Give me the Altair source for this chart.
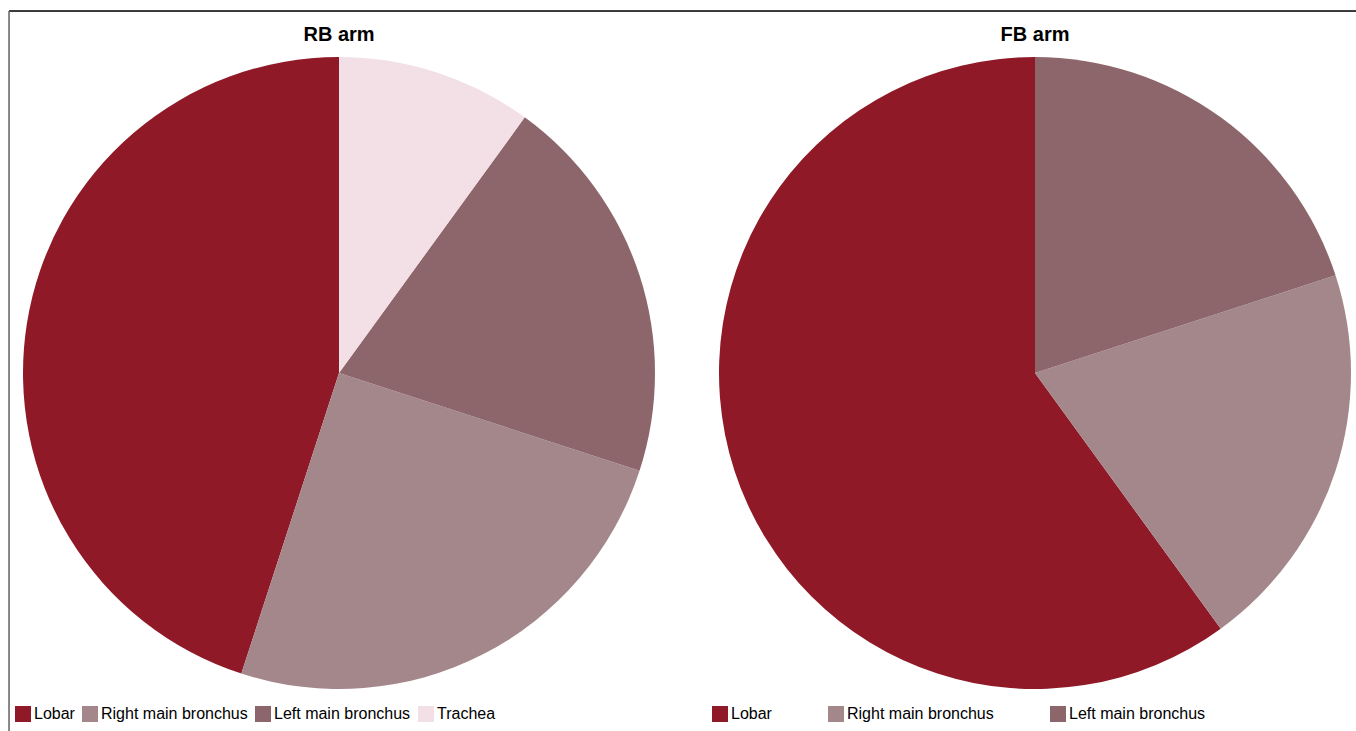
import altair as alt
import pandas as pd

categories_rb = ["Lobar", "Right main bronchus", "Left main bronchus", "Trachea"]
values_rb = [45, 25, 20, 10]
categories_fb = ["Lobar", "Right main bronchus", "Left main bronchus"]
values_fb = [60, 20, 20]
# drawing order clockwise from 12 o'clock
order_rb = [4, 3, 2, 1]
order_fb = [3, 2, 1]
palette = {"Lobar": "#8F1927", "Right main bronchus": "#A4878B",
           "Left main bronchus": "#8D666B", "Trachea": "#F3DFE6"}
panel_titles = ["RB arm", "FB arm"]

FONT = "Liberation Sans, Arial, sans-serif"
W, H = 1347, 720
R = 316

df_rb = pd.DataFrame({"cat": categories_rb, "val": values_rb, "ord": order_rb})
df_fb = pd.DataFrame({"cat": categories_fb, "val": values_fb, "ord": order_fb})


def pie(df, cats, cx, legend_x, col_pad):
    return alt.Chart(df).mark_arc(radius=R, stroke=None).encode(
        theta=alt.Theta("val:Q", stack=True),
        order=alt.Order("ord:Q"),
        color=alt.Color(
            "cat:N",
            scale=alt.Scale(domain=cats, range=[palette[c] for c in cats]),
            legend=alt.Legend(
                title=None, orient="none", direction="horizontal",
                legendX=legend_x, legendY=H - 25,
                symbolType="square", symbolSize=256, symbolStrokeWidth=0,
                labelFont=FONT, labelFontSize=16, labelColor="#000",
                labelOffset=3, columnPadding=col_pad, labelLimit=400,
            ),
        ),
        x=alt.value(cx),
        y=alt.value(362),
    )


left = pie(df_rb, categories_rb, 330, 6, 7)
right = pie(df_fb, categories_fb, 1026, 703, 56)

titles = alt.Chart(pd.DataFrame({"t": panel_titles, "px": [330, 1026]})).mark_text(
    font="Liberation Sans", fontWeight="bold", fontSize=20, color="#000",
    baseline="middle", align="center",
).encode(x=alt.X("px:Q", scale=None), y=alt.value(24), text="t:N")

top_line = alt.Chart(pd.DataFrame({"a": [0]})).mark_rule(color="#000", strokeWidth=1.5).encode(
    x=alt.value(0), x2=alt.value(W), y=alt.value(0))
left_line = alt.Chart(pd.DataFrame({"a": [0]})).mark_rule(color="#666", strokeWidth=1.5).encode(
    x=alt.value(0), y=alt.value(0), y2=alt.value(H))

chart = alt.layer(left, right, titles, top_line, left_line).resolve_scale(
    color="independent"
).properties(
    width=W, height=H,
    autosize=alt.AutoSizeParams(type="none"),
    padding={"left": 9, "top": 11, "right": 0, "bottom": 0},
).configure_view(stroke=None).configure(background="white")

chart.save("out.html", embed_options={"renderer": "svg", "actions": False})
